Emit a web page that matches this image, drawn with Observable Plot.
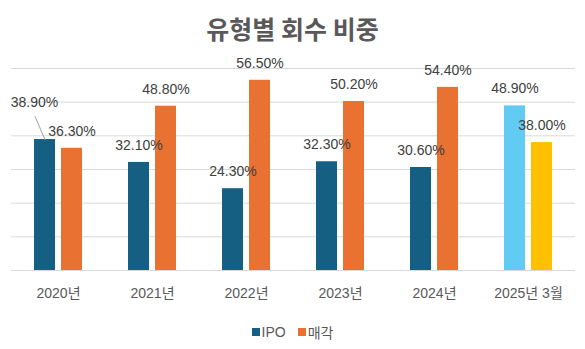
<!DOCTYPE html>
<html>
<head>
<meta charset="utf-8">
<script src="https://cdn.jsdelivr.net/npm/d3@7"></script>
<script src="https://cdn.jsdelivr.net/npm/@observablehq/plot@0.6"></script>
<style>
  html, body { margin: 0; padding: 0; background: #fff; }
  body { width: 585px; height: 349px; overflow: hidden; font-family: "Liberation Sans", "Noto Sans CJK KR", sans-serif; }
  #title { height: 50px; line-height: 50px; padding-top: 3px; box-sizing: border-box; text-align: center; font-family: "Noto Sans CJK KR", sans-serif; font-weight: bold; font-size: 25px; color: #595959; }
  #legend { display: flex; justify-content: center; align-items: center; margin-top: 12px; font-size: 14px; color: #595959; font-family: "Liberation Sans", "Noto Sans CJK KR", sans-serif; }
  #legend .sw { display: inline-block; width: 8px; height: 8px; margin-right: 2px; }
  #legend .item { display: flex; align-items: center; margin: 0 6px; }
</style>
</head>
<body>
<div id="title">유형별 회수 비중</div>
<div id="chart"></div>
<div id="legend"></div>
<script>
const years = ["2020년", "2021년", "2022년", "2023년", "2024년", "2025년 3월"];
const seriesNames = ["IPO", "매각"];
const ipoValues = [38.9, 32.1, 24.3, 32.3, 30.6, 48.9];
const saleValues = [36.3, 48.8, 56.5, 50.2, 54.4, 38.0];
const yTicks = [0, 10, 20, 30, 40, 50, 60];

const partialYear = years[years.length - 1];
const palette = {
  "IPO": "#156082",
  "매각": "#E97132",
  "IPO partial": "#61CBF3",
  "매각 partial": "#FFC000"
};

const data = [];
years.forEach((y, i) => {
  data.push({year: y, series: seriesNames[0], value: ipoValues[i]});
  data.push({year: y, series: seriesNames[1], value: saleValues[i]});
});
const colorOf = d => palette[d.year === partialYear ? d.series + " partial" : d.series];

// the 2020 IPO label is moved off the bar with a leader line
const moved = d => d.year === years[0] && d.series === seriesNames[0];

const chart = Plot.plot({
  width: 585,
  height: 260,
  marginTop: 18,
  marginBottom: 40,
  marginLeft: 10,
  marginRight: 10,
  style: {fontSize: "14px", fontFamily: "'Liberation Sans', 'Noto Sans CJK KR', sans-serif", color: "#595959", background: "transparent"},
  fx: {domain: years, padding: 0, axis: "bottom", label: null, tickSize: 0, tickPadding: 18},
  x: {domain: seriesNames, axis: null, paddingInner: 0.222, paddingOuter: 0.848},
  y: {domain: [0, 60], axis: null},
  marks: [
    Plot.ruleY(yTicks, {stroke: "#d9d9d9", strokeWidth: 1}),
    Plot.barY(data, {fx: "year", x: "series", y: "value", fill: colorOf}),
    Plot.text(data.filter(d => !moved(d)), {fx: "year", x: "series", y: "value", text: d => d.value.toFixed(2) + "%", dy: -17, fill: "#404040", fontSize: 14}),
    Plot.text(data.filter(moved), {fx: "year", x: "series", y: "value", text: d => d.value.toFixed(2) + "%", dx: -10.5, dy: -37.5, fill: "#404040", fontSize: 14}),
    Plot.vector(data.filter(moved), {fx: "year", x: "series", y: "value", anchor: "start", length: 25, rotate: -23.5, r: 0, stroke: "#a6a6a6", strokeWidth: 1})
  ]
});
document.getElementById("chart").appendChild(chart);

const legend = document.getElementById("legend");
seriesNames.forEach(s => {
  const item = document.createElement("span");
  item.className = "item";
  const sw = document.createElement("span");
  sw.className = "sw";
  sw.style.background = palette[s];
  item.appendChild(sw);
  item.appendChild(document.createTextNode(s));
  legend.appendChild(item);
});
</script>
</body>
</html>
